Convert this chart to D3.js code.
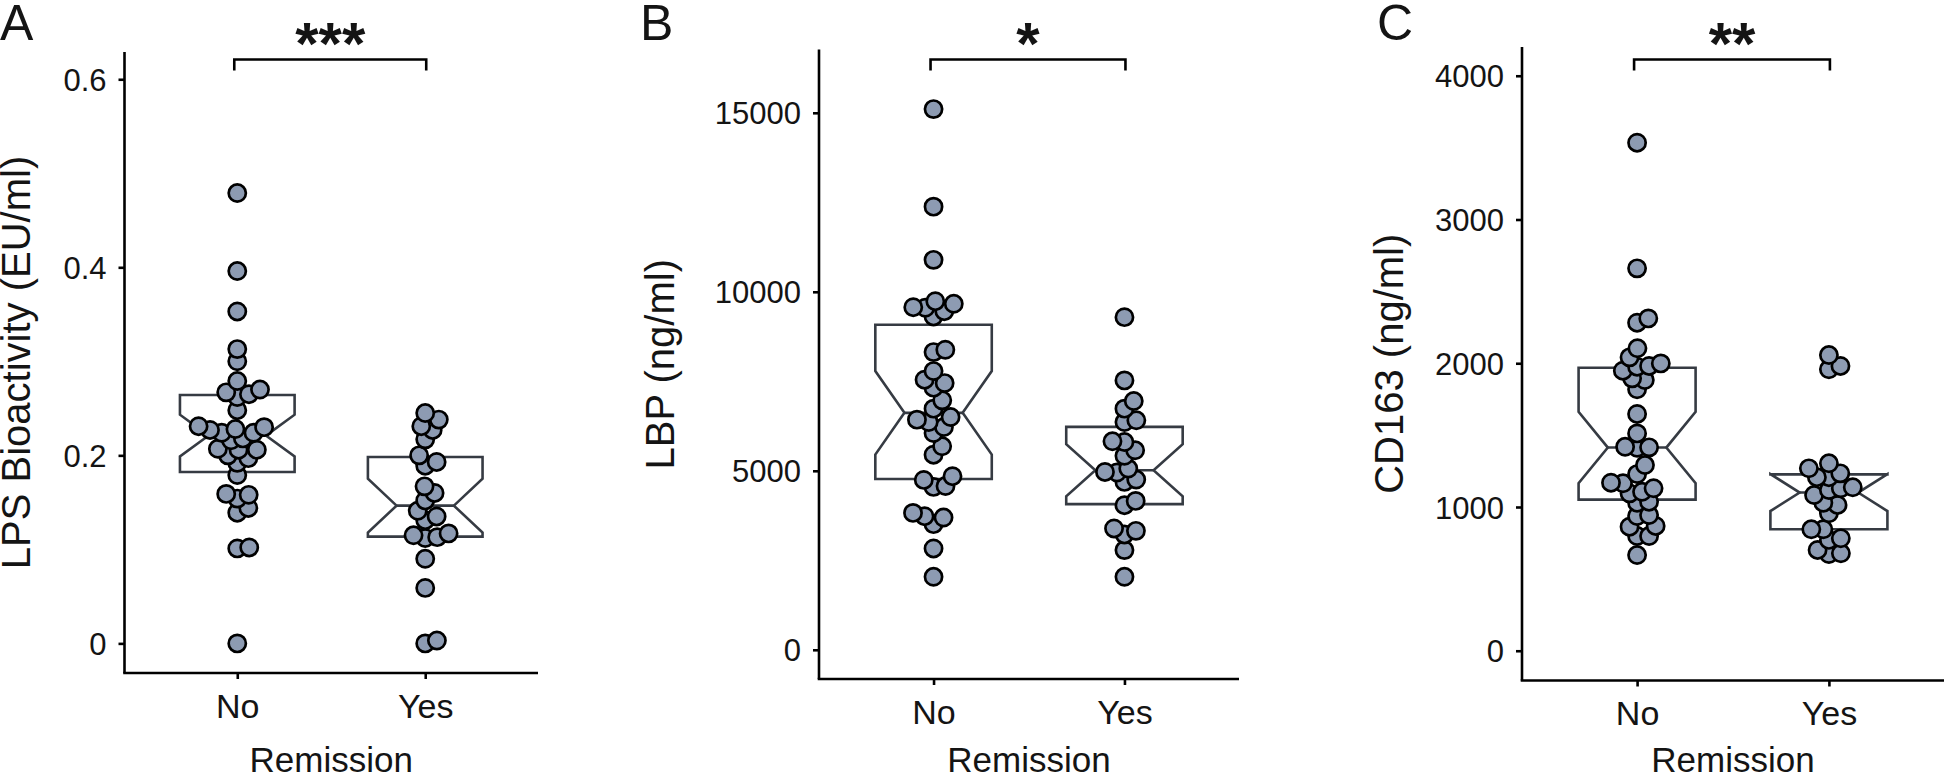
<!DOCTYPE html>
<html lang="en">
<head>
<meta charset="UTF-8">
<title>Remission</title>
<script src="https://d3js.org/d3.v7.min.js"></script>
<style>
  body { margin: 0; background: #fff; }
  svg { display: block; font-family: "Liberation Sans", Arial, Helvetica, sans-serif; }
</style>
</head>
<body>
<div id="chart"></div>
<script>
var groups = ["No", "Yes"];

// LPS bioactivity (EU/ml)
var lpsNo = [0.479, 0.396, 0.353, 0.313, 0.300, 0.279, 0.270, 0.265, 0.262, 0.267, 0.248,
    0.228, 0.224, 0.230, 0.216, 0.227, 0.231, 0.218, 0.224, 0.200, 0.206, 0.207, 0.206,
    0.192, 0.197, 0.179, 0.159, 0.158, 0.154, 0.139, 0.144, 0.101, 0.102, 0.000];
var lpsYes = [0.245, 0.238, 0.227, 0.231, 0.217, 0.193, 0.200, 0.189, 0.167, 0.160, 0.152,
    0.141, 0.135, 0.131, 0.117, 0.113, 0.112, 0.115, 0.090, 0.059, 0.003, 0.000];

// LBP (ng/ml)
var lbpNo = [15103, 12378, 10892, 9737, 9665, 9570, 9553, 9458, 9310, 8381, 8315, 7785,
    7545, 7450, 7322, 6967, 6736, 6502, 6429, 6362, 6223, 6055, 5684, 5450, 4848, 4745,
    4575, 4550, 3824, 3732, 3695, 3509, 2831, 2039];
var lbpYes = [9291, 7525, 6948, 6736, 6410, 6362, 5824, 5804, 5573, 5420, 5062, 4968,
    4951, 4756, 4689, 4159, 4039, 3389, 3322, 3222, 2784, 2039];

// CD163 (ng/ml)
var cd163No = [3534, 2660, 2312, 2282, 2104, 2041, 1999, 1981, 1976, 1948, 1895, 1883,
    1819, 1647, 1512, 1419, 1415, 1412, 1292, 1229, 1169, 1165, 1130, 1106, 1095, 1037,
    1030, 944, 937, 868, 863, 798, 798, 666];
var cd163Yes = [2057, 1981, 1958, 1304, 1269, 1234, 1207, 1207, 1137, 1130, 1118, 1083,
    1030, 1014, 956, 845, 845, 782, 771, 701, 678, 673];

var lpsTicks = [0, 0.2, 0.4, 0.6];
var lbpTicks = [0, 5000, 10000, 15000];
var cd163Ticks = [0, 1000, 2000, 3000, 4000];

var panelLetters = ["A", "B", "C"];
var yTitles = ["LPS Bioactivity (EU/ml)", "LBP (ng/ml)", "CD163 (ng/ml)"];
var xTitle = "Remission";
var stars = ["***", "*", "**"];

var panels = [
    {values: [lpsNo, lpsYes], ticks: lpsTicks, fmt: function(v) { return v === 0 ? "0" : d3.format(".1f")(v); }},
    {values: [lbpNo, lbpYes], ticks: lbpTicks, fmt: d3.format("d")},
    {values: [cd163No, cd163Yes], ticks: cd163Ticks, fmt: d3.format("d")}
];

// layout of each panel in page pixels
var layout = [
    {left: 124.5, right: 538, top: 52, bottom: 673, letterX: 0, titleX: 29.5, yLim: [-0.0315, 0.629]},
    {left: 819, right: 1239, top: 49.5, bottom: 679, letterX: 640, titleX: 674, yLim: [-816, 16768]},
    {left: 1522, right: 1944, top: 47, bottom: 680.5, letterX: 1377, titleX: 1403, yLim: [-207, 4200]}
];

var W = 1945, H = 776;
var dotR = 8.6, swarmGap = 12;
var boxColor = "#363b43", dotColor = "#8d9bb2", textColor = "#141414";

var svg = d3.select("#chart").append("svg")
    .attr("width", W)
    .attr("height", H);

// beeswarm: place each point as close to the centre as it can go without overlap
var swarm = function(values, y, gap) {
    var pts = values.map(function(v) { return {v: v, y: y(v)}; })
        .sort(function(a, b) { return b.y - a.y; });
    var placed = [];
    pts.forEach(function(p) {
        var cands = [0];
        placed.forEach(function(q) {
            var dy = Math.abs(q.y - p.y);
            if (dy < gap) {
                var dx = Math.sqrt(gap * gap - dy * dy);
                cands.push(q.dx + dx + 0.01, q.dx - dx - 0.01);
            }
        });
        cands.sort(function(a, b) { return Math.abs(a) - Math.abs(b); });
        for (var i = 0; i < cands.length; i++) {
            var c = cands[i];
            var ok = placed.every(function(q) {
                var ddx = q.dx - c, ddy = q.y - p.y;
                return ddx * ddx + ddy * ddy >= gap * gap - 0.1;
            });
            if (ok) { p.dx = c; break; }
        }
        placed.push(p);
    });
    return placed;
};

// ggplot-style notched box stats
var boxStats = function(values) {
    var s = values.slice().sort(d3.ascending);
    var q1 = d3.quantileSorted(s, 0.25), med = d3.quantileSorted(s, 0.5), q3 = d3.quantileSorted(s, 0.75);
    var n = 1.58 * (q3 - q1) / Math.sqrt(s.length);
    return {q1: q1, med: med, q3: q3, lo: med - n, hi: med + n};
};

panels.forEach(function(panel, pi) {
    var L = layout[pi];
    var g = svg.append("g");

    var x = d3.scalePoint()
        .domain(groups)
        .range([L.left, L.right])
        .padding(0.6);
    var step = x.step();

    var y = d3.scaleLinear()
        .domain(L.yLim)
        .range([L.bottom, L.top]);

    // boxes
    var boxW = step * 0.61;
    groups.forEach(function(grp, gi) {
        var st = boxStats(panel.values[gi]);
        var x0 = x(grp) - boxW / 2, x1 = x(grp) + boxW / 2, ind = boxW * 0.25;
        var poly = [
            [x0, y(st.q3)], [x0, y(st.hi)], [x0 + ind, y(st.med)], [x0, y(st.lo)], [x0, y(st.q1)],
            [x1, y(st.q1)], [x1, y(st.lo)], [x1 - ind, y(st.med)], [x1, y(st.hi)], [x1, y(st.q3)]
        ];
        g.append("path")
            .attr("d", d3.line()(poly) + "Z")
            .style("fill", "white")
            .style("stroke", boxColor)
            .style("stroke-width", 2.6)
            .style("stroke-linejoin", "miter");
        g.append("line")
            .attr("x1", x0 + ind).attr("x2", x1 - ind)
            .attr("y1", y(st.med)).attr("y2", y(st.med))
            .style("stroke", boxColor)
            .style("stroke-width", 2.6);
    });

    // dots
    groups.forEach(function(grp, gi) {
        var pts = swarm(panel.values[gi], y, swarmGap);
        g.selectAll(null)
            .data(pts)
            .enter().append("circle")
            .attr("cx", function(d) { return x(grp) + d.dx; })
            .attr("cy", function(d) { return d.y; })
            .attr("r", dotR)
            .style("fill", dotColor)
            .style("stroke", "black")
            .style("stroke-width", 2.7);
    });

    // axes
    var axisL = g.append("g")
        .attr("transform", "translate(" + L.left + ",0)")
        .call(d3.axisLeft(y).tickValues(panel.ticks).tickFormat(panel.fmt).tickSize(6).tickPadding(12));
    var axisB = g.append("g")
        .attr("transform", "translate(0," + L.bottom + ")")
        .call(d3.axisBottom(x).tickSize(6).tickPadding(14));

    axisL.select(".domain").attr("d", "M0," + L.top + "V" + L.bottom);
    axisB.select(".domain").attr("d", "M" + (L.left - 1.3) + ",0H" + L.right);
    [axisL, axisB].forEach(function(a) {
        a.selectAll(".domain, .tick line").style("stroke", "black").style("stroke-width", 2.6);
    });
    axisL.selectAll(".tick text")
        .style("font-size", "31px")
        .style("fill", textColor)
        .attr("dy", "0.36em");
    axisB.selectAll(".tick text")
        .style("font-size", "34px")
        .style("fill", textColor)
        .attr("dy", "0.73em");

    // titles
    g.append("text")
        .attr("transform", "translate(" + L.titleX + "," + ((L.top + L.bottom) / 2) + ") rotate(-90)")
        .attr("text-anchor", "middle")
        .style("font-size", "40px")
        .style("fill", textColor)
        .text(yTitles[pi]);
    g.append("text")
        .attr("x", (L.left + L.right) / 2)
        .attr("y", 772)
        .attr("text-anchor", "middle")
        .style("font-size", "35px")
        .style("fill", textColor)
        .text(xTitle);
    g.append("text")
        .attr("x", L.letterX)
        .attr("y", 40)
        .style("font-size", "50px")
        .style("fill", textColor)
        .text(panelLetters[pi]);

    // significance bracket
    var bx0 = x(groups[0]) - 3, bx1 = x(groups[1]) + 1, by = 59.5;
    g.append("path")
        .attr("d", "M" + bx0 + "," + (by + 11) + "V" + by + "H" + bx1 + "V" + (by + 11))
        .style("fill", "none")
        .style("stroke", "black")
        .style("stroke-width", 2.6);
    g.append("text")
        .attr("x", (bx0 + bx1) / 2)
        .attr("y", 64)
        .attr("text-anchor", "middle")
        .style("font-size", "60px")
        .style("font-weight", "bold")
        .style("fill", textColor)
        .text(stars[pi]);
});
</script>
</body>
</html>
